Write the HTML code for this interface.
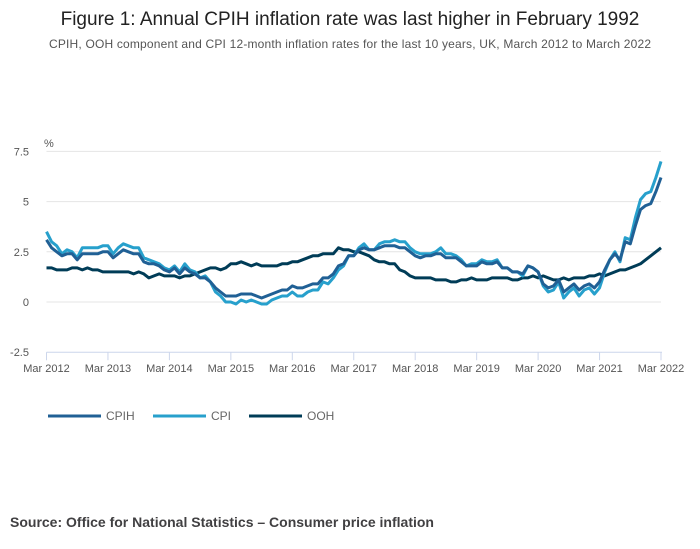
<!DOCTYPE html>
<html><head><meta charset="utf-8"><style>
body{margin:0;width:700px;height:549px;background:#fff;font-family:"Liberation Sans",sans-serif;overflow:hidden}
svg{position:absolute;left:0;top:0}
</style></head><body>
<svg width="700" height="549">
<text x="350" y="25" text-anchor="middle" font-size="19" fill="#222">Figure 1: Annual CPIH inflation rate was last higher in February 1992</text>
<text x="350" y="48" text-anchor="middle" font-size="12" fill="#555" textLength="602">CPIH, OOH component and CPI 12-month inflation rates for the last 10 years, UK, March 2012 to March 2022</text>
<text x="44" y="147" font-size="11" fill="#555">%</text>
<g id="grid"></g><g id="xaxis"></g><g id="lines"></g>
<g>
<line x1="48" y1="416" x2="101" y2="416" stroke="#206095" stroke-width="3"/>
<text x="106" y="420" font-size="12" fill="#666">CPIH</text>
<line x1="153" y1="416" x2="206" y2="416" stroke="#27a0cc" stroke-width="3"/>
<text x="211" y="420" font-size="12" fill="#666">CPI</text>
<line x1="249" y1="416" x2="302" y2="416" stroke="#003c57" stroke-width="3"/>
<text x="307" y="420" font-size="12" fill="#666">OOH</text>
</g>
<text x="10" y="527" font-size="14" font-weight="bold" fill="#414042">Source: Office for National Statistics – Consumer price inflation</text>
</svg>
<script>
const yTicks=[-2.5,0,2.5,5,7.5];
const yTickLabels=["-2.5","0","2.5","5","7.5"];
const xTickLabels=["Mar 2012","Mar 2013","Mar 2014","Mar 2015","Mar 2016","Mar 2017","Mar 2018","Mar 2019","Mar 2020","Mar 2021","Mar 2022"];
const cpih=[3.1,2.7,2.5,2.3,2.4,2.4,2.1,2.4,2.4,2.4, 2.4,2.5,2.5,2.2,2.4,2.6,2.5,2.4,2.4,2.0,1.9,1.9, 1.8,1.6,1.5,1.7,1.4,1.7,1.5,1.4,1.2,1.2,1.0,0.7, 0.5,0.3,0.3,0.3,0.4,0.4,0.4,0.3,0.2,0.3,0.4,0.5, 0.6,0.6,0.8,0.7,0.7,0.8,0.9,0.9,1.2,1.2,1.4,1.8, 1.9,2.3,2.3,2.6,2.7,2.6,2.6,2.7,2.8,2.8,2.8,2.7, 2.7,2.5,2.3,2.2,2.3,2.3,2.4,2.4,2.2,2.2,2.2,2.0, 1.8,1.8,1.8,2.0,1.9,1.9,2.0,1.7,1.7,1.5,1.5,1.4, 1.8,1.7,1.5,0.9,0.7,0.8,1.1,0.5,0.7,0.9,0.6,0.8, 0.9,0.7,1.0,1.6,2.1,2.4,2.1,3.0,2.9,3.8,4.6,4.8, 4.9,5.5,6.2];
const cpi=[3.5,3.0,2.8,2.4,2.6,2.5,2.2,2.7,2.7,2.7, 2.7,2.8,2.8,2.4,2.7,2.9,2.8,2.7,2.7,2.2,2.1,2.0, 1.9,1.7,1.6,1.8,1.5,1.9,1.6,1.5,1.2,1.3,1.0,0.5, 0.3,0.0,0.0,-0.1,0.1,0.0,0.1,0.0,-0.1,-0.1,0.1,0.2, 0.3,0.3,0.5,0.3,0.3,0.5,0.6,0.6,1.0,0.9,1.2,1.6, 1.8,2.3,2.3,2.7,2.9,2.6,2.6,2.9,3.0,3.0,3.1,3.0, 3.0,2.7,2.5,2.4,2.4,2.4,2.5,2.7,2.4,2.4,2.3,2.1, 1.8,1.9,1.9,2.1,2.0,2.0,2.1,1.7,1.7,1.5,1.5,1.3, 1.8,1.7,1.5,0.8,0.5,0.6,1.0,0.2,0.5,0.7,0.3,0.6, 0.7,0.4,0.7,1.5,2.1,2.5,2.0,3.2,3.1,4.2,5.1,5.4, 5.5,6.2,7.0];
const ooh=[1.7,1.7,1.6,1.6,1.6,1.7,1.7,1.6,1.7,1.6, 1.6,1.5,1.5,1.5,1.5,1.5,1.5,1.4,1.5,1.4,1.2,1.3, 1.4,1.3,1.3,1.3,1.2,1.3,1.3,1.4,1.5,1.6,1.7,1.7, 1.6,1.7,1.9,1.9,2.0,1.9,1.8,1.9,1.8,1.8,1.8,1.8, 1.9,1.9,2.0,2.0,2.1,2.2,2.3,2.3,2.4,2.4,2.4,2.7, 2.6,2.6,2.5,2.5,2.4,2.3,2.1,2.0,2.0,1.9,1.9,1.6, 1.5,1.3,1.2,1.2,1.2,1.2,1.1,1.1,1.1,1.0,1.0,1.1, 1.1,1.2,1.1,1.1,1.1,1.2,1.2,1.2,1.2,1.1,1.1,1.2, 1.2,1.3,1.2,1.3,1.2,1.1,1.1,1.2,1.1,1.2,1.2,1.2, 1.3,1.3,1.4,1.3,1.4,1.5,1.6,1.6,1.7,1.8,1.9,2.1, 2.3,2.5,2.7];
const NS="http://www.w3.org/2000/svg";
const X0=46.5,X1=661,Y0=302,PX=50.2/2.5;
const n=cpih.length;
function xs(i){return X0+(X1-X0)*i/(n-1);}
function ys(v){return Y0-v*PX;}
function mk(t,a,p){const e=document.createElementNS(NS,t);for(const k in a)e.setAttribute(k,a[k]);p.appendChild(e);return e;}
const grid=document.getElementById('grid');
yTicks.forEach((v,i)=>{
  if(v>-2.5){const l=mk('line',{x1:X0,x2:X1,y1:ys(v),y2:ys(v),stroke:'#e4e4e4','stroke-width':1},grid);
  
  }
  const t=mk('text',{x:29,y:ys(v)+4,'text-anchor':'end','font-size':11,fill:'#555'},grid);
  t.textContent=yTickLabels[i];
  
  
});
const xa=document.getElementById('xaxis');
const ax=mk('line',{x1:X0,x2:X1+1,y1:ys(-2.5),y2:ys(-2.5),stroke:'#ccd6eb','stroke-width':1},xa);


xTickLabels.forEach((s,i)=>{
  const x=xs(i*12);
  const tk=mk('line',{x1:x,x2:x,y1:ys(-2.5),y2:ys(-2.5)+8,stroke:'#ccd6eb'},xa);
  
  
  const t=mk('text',{x:x,y:372,'text-anchor':'middle','font-size':11,fill:'#555'},xa);
  t.textContent=s;
  
  
});
const lg=document.getElementById('lines');
[[ooh,'#003c57','line-ooh'],[cpi,'#27a0cc','line-cpi'],[cpih,'#206095','line-cpih']].forEach(([d,c,nm])=>{
  const p=mk('polyline',{points:d.map((v,i)=>xs(i).toFixed(1)+','+ys(v).toFixed(1)).join(' '),fill:'none',stroke:c,'stroke-width':3,'stroke-linejoin':'round'},lg);
  
  
});
</script>
</body></html>
